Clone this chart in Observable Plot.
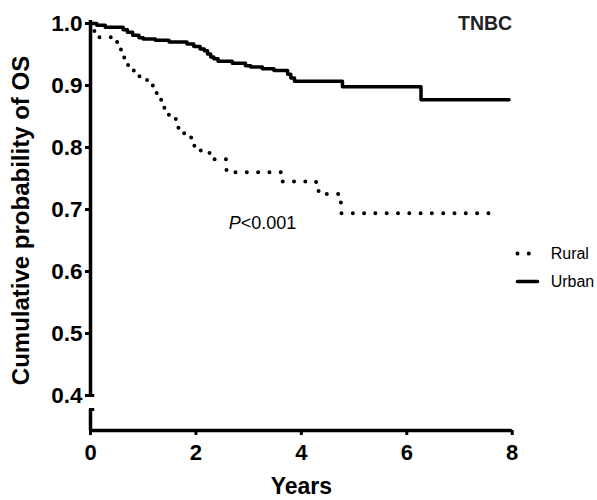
<!DOCTYPE html>
<html>
<head>
<meta charset="utf-8">
<script src="https://cdn.jsdelivr.net/npm/d3@7"></script>
<script src="https://cdn.jsdelivr.net/npm/@observablehq/plot@0.6"></script>
<style>
  html, body { margin: 0; padding: 0; background: #fff; }
  #chart { width: 597px; height: 500px; }
</style>
</head>
<body>
<div id="chart"></div>
<script>
// ---- data ----
const urbanTime = [0, 0.12, 0.28, 0.62, 0.70, 0.80, 0.92, 1.00, 1.23, 1.49, 1.83, 1.96, 2.08, 2.16, 2.22, 2.28, 2.34, 2.42, 2.69, 2.94, 3.04, 3.26, 3.48, 3.74, 3.80, 3.87, 4.78, 6.27, 7.94];
const urbanSurv = [1.000, 0.997, 0.994, 0.990, 0.986, 0.981, 0.977, 0.975, 0.973, 0.970, 0.967, 0.963, 0.959, 0.956, 0.951, 0.946, 0.943, 0.939, 0.936, 0.932, 0.930, 0.927, 0.924, 0.918, 0.912, 0.907, 0.898, 0.877, 0.877];
const ruralTime = [0, 0.04, 0.14, 0.44, 0.55, 0.62, 0.70, 0.78, 0.88, 0.98, 1.14, 1.24, 1.33, 1.39, 1.45, 1.60, 1.65, 1.74, 1.84, 1.94, 2.04, 2.20, 2.30, 2.58, 3.62, 4.28, 4.40, 4.75, 7.58];
const ruralSurv = [1.000, 0.988, 0.978, 0.970, 0.958, 0.945, 0.933, 0.924, 0.915, 0.909, 0.900, 0.888, 0.877, 0.864, 0.853, 0.846, 0.832, 0.823, 0.816, 0.803, 0.795, 0.791, 0.781, 0.760, 0.745, 0.730, 0.725, 0.694, 0.694];

const seriesNames = ["Rural", "Urban"];
const xTicks = [0, 2, 4, 6, 8];
const yTicks = [0.4, 0.5, 0.6, 0.7, 0.8, 0.9, 1.0];
const xDomain = [0, 8];
const yAxisBottom = 0.3435;   // value at the x-axis line (below the break)
const yBreakTop = 0.4;        // upper axis segment ends here
const yBreakLow = 0.3774;     // lower axis segment starts here
const titleText = "TNBC";
const xLabel = "Years";
const yLabel = "Cumulative probability of OS";
const pLabel = ["P", "<0.001"];
const pPos = {x: 2.85, y: 0.678};

const urban = urbanTime.map((t, i) => ({time: t, surv: urbanSurv[i]}));
const rural = ruralTime.map((t, i) => ({time: t, surv: ruralSurv[i]}));

// legend rows (in data units, placed right of the plot frame)
const legendRural = [{time: 8.10, surv: 0.629}, {time: 8.33, surv: 0.629}];
const legendUrban = [{time: 8.10, surv: 0.584}, {time: 8.48, surv: 0.584}];
const legendText = [{time: 8.73, surv: 0.629, name: seriesNames[0]}, {time: 8.73, surv: 0.584, name: seriesNames[1]}];

const font = "'Liberation Sans', Arial, Helvetica, sans-serif";
const dotted = {strokeDasharray: "0 11.3", strokeLinecap: "round", strokeWidth: 4};

const chart = Plot.plot({
  width: 597,
  height: 500,
  marginLeft: 90,
  marginRight: 85.3,
  marginTop: 23,
  marginBottom: 70,
  style: {fontFamily: font, color: "#000", background: "#fff", overflow: "visible"},
  x: {domain: xDomain},
  y: {domain: [yAxisBottom, 1.0]},
  marks: [
    // y axis (broken)
    Plot.axisY({ticks: yTicks, tickSize: 5, tickPadding: 3, strokeWidth: 3, tickFormat: d3.format(".1f"),
                fontSize: 22.5, fontWeight: "bold", label: null}),
    Plot.ruleX([0], {y1: yBreakTop, y2: 1.005, strokeWidth: 3.5}),
    Plot.ruleX([0], {y1: yAxisBottom, y2: yBreakLow, strokeWidth: 3.5}),
    Plot.ruleY([yBreakTop, yBreakLow], {x1: -0.02, x2: 0.08, strokeWidth: 3}),
    // x axis
    Plot.axisX({ticks: xTicks, tickSize: 5, tickPadding: 9, strokeWidth: 3, fontSize: 22, fontWeight: "bold", label: null}),
    Plot.ruleY([yAxisBottom], {x1: xDomain[0], x2: xDomain[1], strokeWidth: 3.5}),
    // curves
    Plot.line(rural, {x: "time", y: "surv", curve: "step-after", ...dotted}),
    Plot.line(urban, {x: "time", y: "surv", curve: "step-after", strokeWidth: 3.5}),
    // axis titles
    Plot.text([xLabel], {frameAnchor: "bottom", dy: 56, fontSize: 23, fontWeight: "bold", lineAnchor: "middle"}),
    Plot.text([yLabel], {frameAnchor: "left", dx: -69, dy: -6.5, rotate: -90, fontSize: 24, fontWeight: "bold", lineAnchor: "middle", textAnchor: "middle"}),
    // title
    Plot.text([titleText], {frameAnchor: "top-right", textAnchor: "end", lineAnchor: "middle", fontSize: 19.5, fontWeight: "bold", fill: "#222"}),
    // p-value
    Plot.text([pLabel[0]], {x: () => pPos.x, y: () => pPos.y, textAnchor: "end", fontSize: 18, fontStyle: "italic"}),
    Plot.text([pLabel[1]], {x: () => pPos.x, y: () => pPos.y, textAnchor: "start", fontSize: 18}),
    // legend
    Plot.line(legendRural, {x: "time", y: "surv", ...dotted}),
    Plot.line(legendUrban, {x: "time", y: "surv", strokeWidth: 3.5}),
    Plot.text(legendText, {x: "time", y: "surv", text: "name", textAnchor: "start", fontSize: 16})
  ]
});
document.getElementById("chart").appendChild(chart);
</script>
</body>
</html>
